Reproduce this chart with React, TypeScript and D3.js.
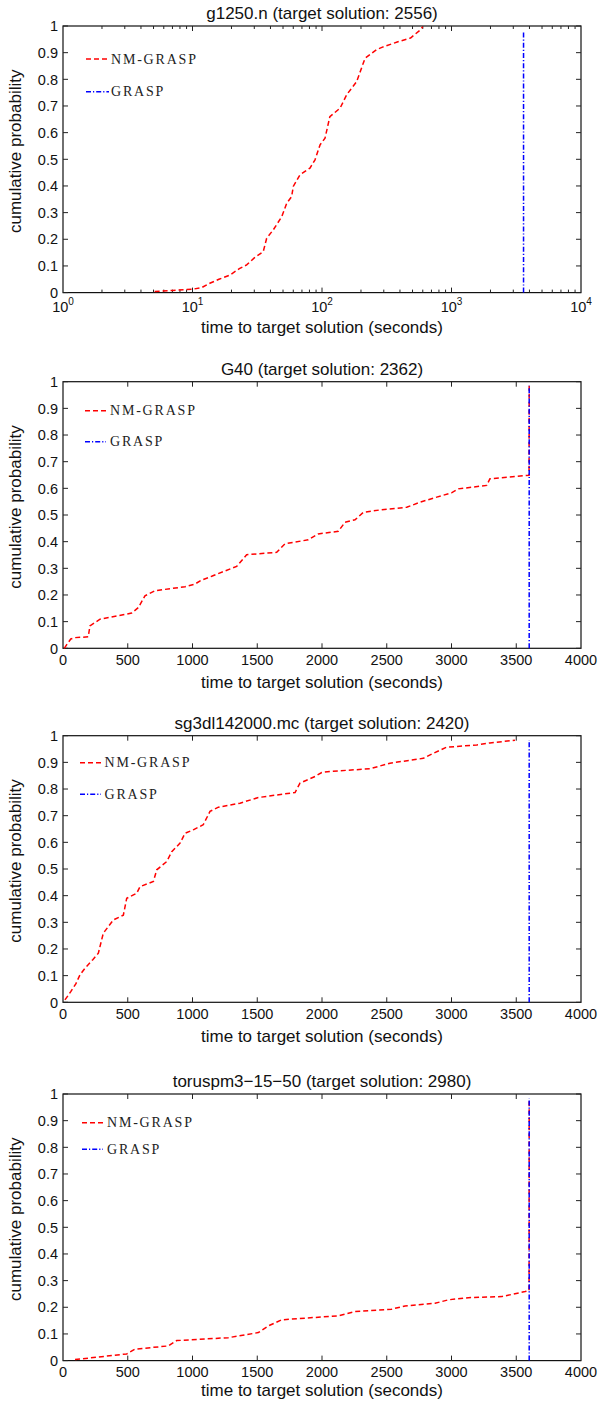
import * as d3 from 'd3';

// time-to-target (seconds), cumulative probability
const nmG1250: [number, number][] = [
  [5.1, 0.004], [7, 0.008], [10.1, 0.013], [11.8, 0.019], [13.6, 0.035], [16, 0.05],
  [19.5, 0.066], [23, 0.09], [26.2, 0.104], [30, 0.13], [35.2, 0.154], [37.4, 0.204],
  [42, 0.235], [48.9, 0.285], [53.4, 0.335], [58.3, 0.36], [60, 0.398], [67.6, 0.442],
  [80.7, 0.467], [88.3, 0.498], [96.6, 0.554], [105.5, 0.579], [115, 0.66], [138, 0.692],
  [155, 0.742], [185, 0.791], [215, 0.879], [265, 0.912], [290, 0.92], [381, 0.94],
  [483, 0.955], [573, 0.985], [600, 0.997],
];
const graspG1250: [number, number][] = [[3600, 0], [3600, 0.98]];

const nmG40: [number, number][] = [
  [10, 0], [30, 0.015], [60, 0.035], [93, 0.04], [195, 0.043], [208, 0.084], [286, 0.109],
  [530, 0.132], [582, 0.153], [633, 0.197], [710, 0.216], [942, 0.231], [1019, 0.241],
  [1071, 0.256], [1148, 0.27], [1250, 0.29], [1341, 0.307], [1418, 0.351], [1650, 0.36],
  [1714, 0.392], [1894, 0.407], [1971, 0.429], [2126, 0.439], [2178, 0.473], [2255, 0.482],
  [2319, 0.51], [2463, 0.52], [2654, 0.529], [2758, 0.548], [2886, 0.567], [3000, 0.583],
  [3053, 0.598], [3272, 0.611], [3297, 0.636], [3599, 0.649], [3600, 0.985],
];
const graspG40: [number, number][] = [[3600, 0], [3600, 0.985]];

const nmSg3dl: [number, number][] = [
  [15, 0.009], [60, 0.04], [100, 0.07], [131, 0.103], [170, 0.128], [230, 0.16], [273, 0.184],
  [311, 0.259], [389, 0.309], [466, 0.327], [492, 0.39], [569, 0.409], [595, 0.434],
  [698, 0.453], [724, 0.497], [801, 0.528], [840, 0.565], [904, 0.597], [942, 0.634],
  [1006, 0.647], [1083, 0.666], [1135, 0.716], [1200, 0.732], [1367, 0.747], [1508, 0.768],
  [1792, 0.787], [1830, 0.822], [1946, 0.847], [1998, 0.862], [2062, 0.866], [2371, 0.876],
  [2525, 0.897], [2782, 0.915], [2860, 0.934], [2963, 0.957], [3195, 0.965], [3297, 0.973],
  [3490, 0.983],
];
const graspSg3dl: [number, number][] = [[3600, 0], [3600, 0.984]];

const nmTorus: [number, number][] = [
  [93, 0.004], [492, 0.025], [556, 0.043], [813, 0.055], [878, 0.075], [1277, 0.086],
  [1508, 0.105], [1585, 0.13], [1689, 0.153], [2126, 0.168], [2255, 0.184], [2538, 0.193],
  [2641, 0.205], [2873, 0.215], [2976, 0.228], [3130, 0.236], [3388, 0.24], [3568, 0.259],
  [3599, 0.263], [3600, 0.984],
];
const graspTorus: [number, number][] = [[3600, 0], [3600, 0.984]];

const titles = [
  'g1250.n (target solution: 2556)',
  'G40 (target solution: 2362)',
  'sg3dl142000.mc (target solution: 2420)',
  'toruspm3\u221215\u221250 (target solution: 2980)',
];
const seriesNames = ['NM-GRASP', 'GRASP'];
const yTicks = [0, 0.1, 0.2, 0.3, 0.4, 0.5, 0.6, 0.7, 0.8, 0.9, 1];
const linTicks = [0, 500, 1000, 1500, 2000, 2500, 3000, 3500, 4000];

const W = 599;
const H = 1404;
const LEFT = 63;
const RIGHT = 581;
const PH = 266.6;
const SANS = "'Liberation Sans', Arial, Helvetica, sans-serif";
const SERIF = "'Liberation Serif', 'Times New Roman', serif";

const panels = [
  { title: titles[0], log: true, nm: nmG1250, grasp: graspG1250, top: 26, leg: { x0: 86, x1: 109, tx: 111, y1: 33, y2: 65.7 }, xlab: 35 },
  { title: titles[1], log: false, nm: nmG40, grasp: graspG40, top: 381.7, leg: { x0: 85, x1: 106, tx: 110, y1: 29, y2: 60 }, xlab: 34.5 },
  { title: titles[2], log: false, nm: nmSg3dl, grasp: graspSg3dl, top: 735.7, leg: { x0: 80, x1: 101, tx: 104.5, y1: 27, y2: 58.6 }, xlab: 34 },
  { title: titles[3], log: false, nm: nmTorus, grasp: graspTorus, top: 1094, leg: { x0: 82, x1: 103, tx: 107, y1: 28.7, y2: 55.3 }, xlab: 30 },
];

function Panel({ p }: { p: (typeof panels)[number] }) {
  const top = p.top;
  const bottom = top + PH;
  const x: any = p.log
    ? d3.scaleLog().domain([1, 10000]).range([LEFT, RIGHT])
    : d3.scaleLinear().domain([0, 4000]).range([LEFT, RIGHT]);
  const y = d3.scaleLinear().domain([0, 1]).range([bottom, top]);
  const line = d3.line<[number, number]>().x(d => x(d[0])).y(d => y(d[1]));

  const xTickVals: { v: number; major: boolean }[] = p.log
    ? x.ticks().map((v: number) => ({ v, major: Math.abs(Math.log10(v) - Math.round(Math.log10(v))) < 1e-9 }))
    : linTicks.map(v => ({ v, major: true }));

  const tickColor = '#222';
  return (
    <g>
      <text x={(LEFT + RIGHT) / 2} y={top - 7} textAnchor="middle" fontFamily={SANS} fontSize={17} fill="#111">{p.title}</text>
      <rect x={LEFT} y={top} width={RIGHT - LEFT} height={PH} fill="none" stroke="#111" strokeWidth={1.2} />
      {xTickVals.map(({ v, major }, i) => {
        const len = major ? 5 : 3;
        const xx = x(v);
        if (xx <= LEFT + 0.5 || xx >= RIGHT - 0.5) return null;
        return (
          <g key={i} stroke={tickColor} strokeWidth={1}>
            <line x1={xx} x2={xx} y1={bottom} y2={bottom - len} />
            <line x1={xx} x2={xx} y1={top} y2={top + len} />
          </g>
        );
      })}
      {yTicks.map((v, i) => (
        <g key={i} stroke={tickColor} strokeWidth={1}>
          <line x1={LEFT} x2={LEFT + 5} y1={y(v)} y2={y(v)} />
          <line x1={RIGHT} x2={RIGHT - 5} y1={y(v)} y2={y(v)} />
        </g>
      ))}
      {yTicks.map((v, i) => (
        <text key={i} x={LEFT - 5} y={y(v) + 5.2} textAnchor="end" fontFamily={SANS} fontSize={14.5} fill="#111">{d3.format('~g')(v)}</text>
      ))}
      {p.log
        ? xTickVals.filter(t => t.major).map(({ v }, i) => (
            <text key={i} x={x(v)} y={bottom + 19.2} textAnchor="middle" fontFamily={SANS} fontSize={14.5} fill="#111">
              10<tspan fontSize={10} dy={-7}>{Math.round(Math.log10(v))}</tspan>
            </text>
          ))
        : xTickVals.map(({ v }, i) => (
            <text key={i} x={x(v)} y={bottom + 16.4} textAnchor="middle" fontFamily={SANS} fontSize={14.5} fill="#111">{v}</text>
          ))}
      <text x={(LEFT + RIGHT) / 2} y={bottom + p.xlab + 5.5} textAnchor="middle" fontFamily={SANS} fontSize={17} fill="#111">time to target solution (seconds)</text>
      <text transform={`translate(${15 + 6},${(top + bottom) / 2 - 8}) rotate(-90)`} textAnchor="middle" fontFamily={SANS} fontSize={17} fill="#111">cumulative probability</text>

      <path d={line(p.nm) ?? ''} fill="none" stroke="#ff0000" strokeWidth={1.5} strokeDasharray="5,3" />
      <path d={line(p.grasp) ?? ''} fill="none" stroke="#0000ff" strokeWidth={1.5} strokeDasharray="5,2,1.2,2" />

      <line x1={p.leg.x0} x2={p.leg.x1} y1={top + p.leg.y1} y2={top + p.leg.y1} stroke="#ff0000" strokeWidth={1.5} strokeDasharray="5,3" />
      <text x={p.leg.tx} y={top + p.leg.y1 + 4.6} fontFamily={SERIF} fontSize={14} letterSpacing={1.8} fill="#222">{seriesNames[0]}</text>
      <line x1={p.leg.x0} x2={p.leg.x1} y1={top + p.leg.y2} y2={top + p.leg.y2} stroke="#0000ff" strokeWidth={1.5} strokeDasharray="5,2,1.2,2" />
      <text x={p.leg.tx} y={top + p.leg.y2 + 4.6} fontFamily={SERIF} fontSize={14} letterSpacing={1.8} fill="#222">{seriesNames[1]}</text>
    </g>
  );
}

export default function App() {
  return (
    <svg width={W} height={H} style={{ position: 'absolute', left: 0, top: 0, background: '#fff' }}>
      {panels.map((p, i) => <Panel key={i} p={p} />)}
    </svg>
  );
}
